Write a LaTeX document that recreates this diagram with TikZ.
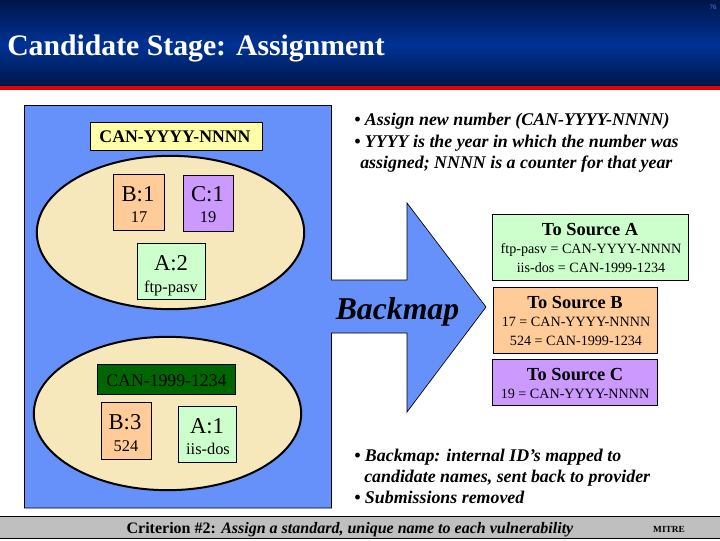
\documentclass[tikz,border=0pt]{standalone}
\usepackage{fontspec}
\setmainfont{Liberation Serif}
\usetikzlibrary{shapes.geometric}
\definecolor{panelblue}{RGB}{102,145,250}
\definecolor{navydark}{RGB}{0,22,72}
\definecolor{navymid}{RGB}{0,50,150}
\definecolor{eggshell}{RGB}{247,232,188}
\definecolor{namecream}{RGB}{255,255,170}
\definecolor{namegreen}{RGB}{0,102,0}
\definecolor{srcorange}{RGB}{255,204,153}
\definecolor{srcpurple}{RGB}{204,153,255}
\definecolor{srcgreen}{RGB}{204,255,204}
\tikzset{
  pool/.style={draw=black,line width=1.5pt,fill=eggshell,ellipse,inner sep=0pt,minimum width=200.5pt,minimum height=115pt},
  srcbox/.style={draw=black,line width=0.5pt},
  bullet/.style={anchor=base west,font=\fontsize{13.4}{13.4}\selectfont\bfseries\itshape,inner sep=0pt},
  srchead/.style={font=\fontsize{13.8}{13.8}\selectfont\bfseries,inner sep=0pt,anchor=base},
  srcline/.style={font=\fontsize{10.6}{10.6}\selectfont,inner sep=0pt,anchor=base},
  idhead/.style={font=\fontsize{17}{17}\selectfont,inner sep=0pt,anchor=base},
  idline/.style={font=\fontsize{12.3}{12.3}\selectfont,inner sep=0pt,anchor=base},
}
\begin{document}
\begin{tikzpicture}[x=0.75pt,y=-0.75pt]
\useasboundingbox (0,0) rectangle (720,540);
\fill[white] (0,0) rectangle (720,540);
% header
\shade[top color=navydark,bottom color=navymid] (0,0) rectangle (720,45);
\shade[top color=navymid,bottom color=navydark] (0,45) rectangle (720,86);
\fill[red!90!black] (0,86) rectangle (720,90);
\node[font=\fontsize{22.3}{22.3}\selectfont\bfseries,text=white,anchor=base west,inner sep=0pt] (title) at (7,55) {Candidate Stage: Assignment};
\node[font=\fontsize{5}{5}\selectfont,text=panelblue,inner sep=0pt] (pageno) at (713,7.5) {76};
% panel with arrow
\draw[fill=panelblue,draw=black,line width=0.5pt] (24.5,105.5) -- (331.5,105.5) -- (331.5,280) -- (407,280) -- (407,203) -- (486,307) -- (407,412) -- (407,333) -- (331.5,333) -- (331.5,508) -- (24.5,508) -- cycle;
\node[font=\fontsize{23.8}{23.8}\selectfont\bfseries\itshape,anchor=base,inner sep=0pt] (backmap) at (397.5,319) {Backmap};
% upper pool
\node[pool] (poolone) at (170.5,232.5) {};
\draw[srcbox,fill=namecream] (90.5,122) rectangle (262.5,150.5);
\node[font=\fontsize{13.3}{13.3}\selectfont\bfseries,anchor=base,inner sep=0pt] (canyyyy) at (175,142) {CAN-YYYY-NNNN};
\draw[srcbox,fill=srcorange] (113.5,174.5) rectangle (164.5,230.5);
\node[idhead] (bone) at (138,201) {B:1};
\node[idline] (bonea) at (139,222) {17};
\draw[srcbox,fill=srcpurple] (183.5,175) rectangle (233.5,231);
\node[idhead] (cone) at (207.5,201) {C:1};
\node[idline] (conea) at (208,222) {19};
\draw[srcbox,fill=srcgreen] (137.5,243.5) rectangle (205.5,299.5);
\node[idhead] (atwo) at (171,270) {A:2};
\node[idline] (atwoa) at (171,292) {ftp-pasv};
% lower pool
\node[pool] (pooltwo) at (167.5,413.5) {};
\draw[srcbox,fill=namegreen] (97.5,364.5) rectangle (235.5,394.5);
\node[font=\fontsize{13.3}{13.3}\selectfont,anchor=base,inner sep=0pt] (canyear) at (166.5,386) {CAN-1999-1234};
\draw[srcbox,fill=srcorange] (101.5,402.5) rectangle (151.5,459);
\node[idhead] (bthree) at (125,429) {B:3};
\node[idline] (bthreea) at (126,451) {524};
\draw[srcbox,fill=srcgreen] (178.5,406.5) rectangle (236.5,462.5);
\node[idhead] (aone) at (207,433) {A:1};
\node[idline] (aonea) at (208,454) {iis-dos};
% sources
\draw[srcbox,fill=srcgreen] (492.5,214) rectangle (688.5,280);
\node[srchead] (srca) at (590,235) {To Source A};
\node[srcline] (srcaa) at (591,253) {ftp-pasv = CAN-YYYY-NNNN};
\node[srcline] (srcab) at (591,272) {iis-dos = CAN-1999-1234};
\draw[srcbox,fill=srcorange] (493.5,287.5) rectangle (657.5,353.5);
\node[srchead] (srcb) at (575,308) {To Source B};
\node[srcline] (srcba) at (576,326) {17 = CAN-YYYY-NNNN};
\node[srcline] (srcbb) at (576,345) {524 = CAN-1999-1234};
\draw[srcbox,fill=srcpurple] (492.5,359.5) rectangle (657.5,405.5);
\node[srchead] (srcc) at (575,380) {To Source C};
\node[srcline] (srcca) at (575,398) {19 = CAN-YYYY-NNNN};
% bullets
\node[bullet] (noteone) at (354,125) {• Assign new number (CAN-YYYY-NNNN)};
\node[bullet] (notetwo) at (354,147) {• YYYY is the year in which the number was};
\node[bullet] (notethree) at (360,168) {assigned; NNNN is a counter for that year};
\node[bullet] (notefour) at (354,461) {• Backmap: internal ID’s mapped to};
\node[bullet] (notefive) at (364,482) {candidate names, sent back to provider};
\node[bullet] (notesix) at (354,503) {• Submissions removed};
% footer
\draw[fill=black!25,draw=black,line width=0.5pt] (-1,516.5) rectangle (721,538.5);
\node[font=\fontsize{12}{12}\selectfont,anchor=base,inner sep=0pt] (criterion) at (350,533) {\textbf{Criterion \#2:} \textbf{\textit{Assign a standard, unique name to each vulnerability}}};
\node[font=\fontsize{7}{7}\selectfont\bfseries,anchor=base,inner sep=0pt] (mitre) at (669,532) {MITRE};
\end{tikzpicture}
\end{document}
